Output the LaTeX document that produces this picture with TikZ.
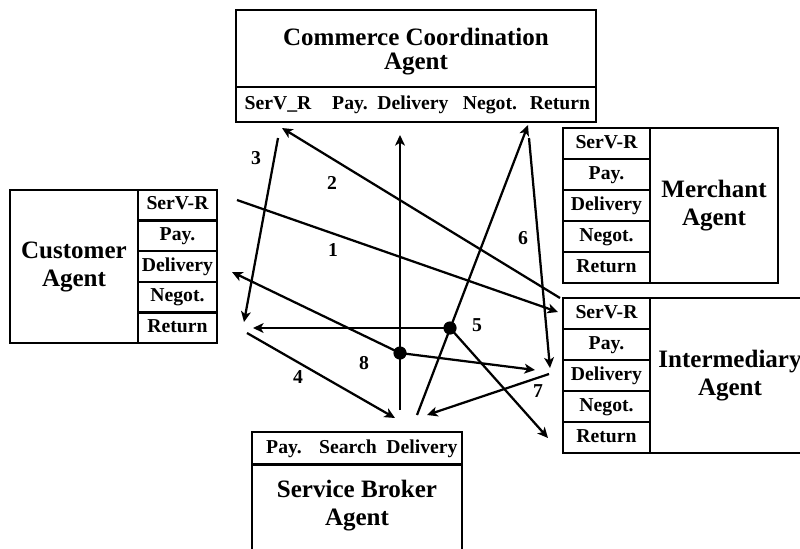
\documentclass[tikz,border=0pt]{standalone}
\usepackage{fontspec}
\setmainfont{Liberation Serif}
\usetikzlibrary{arrows.meta}

\tikzset{
    box/.style={draw, line width=1.6pt, inner sep=0pt, align=center},
    bigtext/.style={font=\fontsize{17.8}{19.9}\selectfont\bfseries},
    smalltext/.style={font=\fontsize{14}{15}\selectfont\bfseries, text height=9pt, text depth=2.5pt},
    cell/.style={box, smalltext},
    flow/.style={line width=1.6pt, -{Stealth[length=7.5pt, width=7pt, inset=2pt]}},
    num/.style={smalltext, inner sep=0pt},
    dot/.style={circle, fill, inner sep=0pt, minimum size=0.33cm}
}

\begin{document}
\begin{tikzpicture}[x=0.025cm, y=-0.025cm]
    \useasboundingbox (0,0) rectangle (800,548);
    \clip (0,0) rectangle (800,548);

    % commerce coordination agent
    \node[box, minimum width=9cm, minimum height=1.925cm] (cca) at (416,48.5) {};
    \node[font=\fontsize{17.8}{17}\selectfont\bfseries, align=center] (ccaname) at (416,52) {Commerce Coordination\\Agent};
    \node[box, minimum width=9cm, minimum height=0.875cm] (ccarow) at (416,104.5) {};
    \foreach \lab/\x [count=\i] in {SerV\_R/278, Pay./350, Delivery/413, Negot./490, Return/560}
        \node[smalltext] (cca-\i) at (\x,105) {\lab};

    % customer agent
    \node[box, bigtext, minimum width=3.2cm, minimum height=3.825cm] (cust) at (74,266.5) {Customer\\Agent};
    \foreach \lab [count=\i] in {SerV-R, Pay., Delivery, Negot., Return}
        \node[cell, minimum width=1.975cm, minimum height=0.765cm] (cust-\i) at (177.5,174.7+30.6*\i) {\lab};

    % merchant agent
    \node[box, bigtext, minimum width=3.2cm, minimum height=3.875cm] (merch) at (714,205.5) {Merchant\\Agent};
    \foreach \lab [count=\i] in {SerV-R, Pay., Delivery, Negot., Return}
        \node[cell, minimum width=2.175cm, minimum height=0.775cm] (merch-\i) at (606.5,112.5+31*\i) {\lab};

    % intermediary agent
    \node[box, bigtext, minimum width=4cm, minimum height=3.875cm] (inter) at (730,375.5) {Intermediary\\Agent};
    \foreach \lab [count=\i] in {SerV-R, Pay., Delivery, Negot., Return}
        \node[cell, minimum width=2.175cm, minimum height=0.775cm] (inter-\i) at (606.5,282.5+31*\i) {\lab};

    % service broker agent
    \node[box, minimum width=5.25cm, minimum height=0.8cm] (sbrow) at (357,448) {};
    \foreach \lab/\x [count=\i] in {Pay./284, Search/348, Delivery/422}
        \node[smalltext] (sb-\i) at (\x,449) {\lab};
    \node[box, minimum width=5.25cm, minimum height=3cm, anchor=north] (sb) at (357,464) {};
    \node[bigtext, align=center] (sbname) at (357,506) {Service Broker\\Agent};

    % free ends of the message flows
    \coordinate (a1) at (237,200);  \coordinate (b1) at (558,312);
    \coordinate (a2) at (560,298);  \coordinate (b2) at (282,128);
    \coordinate (a3) at (278,138);  \coordinate (b3) at (244,322);
    \coordinate (a4) at (247,333);  \coordinate (b4) at (395,418);
    \coordinate (b5) at (253,328);  \coordinate (c5) at (548,438);
    \coordinate (a6) at (529,138);  \coordinate (b6) at (550,368);
    \coordinate (a7) at (549,374);  \coordinate (b7) at (427,415);
    \coordinate (b8) at (232,272);  \coordinate (c8) at (535,370);
    \coordinate (up1) at (400,410); \coordinate (up2) at (400,135);
    \coordinate (dg1) at (417,415); \coordinate (dg2) at (528,125);

    \node[dot] (d5) at (450,328) {};
    \node[dot] (d8) at (400,353) {};

    \draw[flow] (a1) -- (b1);
    \draw[flow] (a2) -- (b2);
    \draw[flow] (a3) -- (b3);
    \draw[flow] (a4) -- (b4);
    \draw[flow] (d5.center) -- (b5);
    \draw[flow] (d5.center) -- (c5);
    \draw[flow] (a6) -- (b6);
    \draw[flow] (a7) -- (b7);
    \draw[flow] (d8.center) -- (b8);
    \draw[flow] (d8.center) -- (c8);
    \draw[flow] (up1) -- (up2);
    \draw[flow] (dg1) -- (dg2);

    % flow numbers
    \node[num] (n1) at (333,252) {1};
    \node[num] (n2) at (332,185) {2};
    \node[num] (n3) at (256,160) {3};
    \node[num] (n4) at (298,379) {4};
    \node[num] (n5) at (477,327) {5};
    \node[num] (n6) at (523,240) {6};
    \node[num] (n7) at (538,393) {7};
    \node[num] (n8) at (364,365) {8};
\end{tikzpicture}
\end{document}
